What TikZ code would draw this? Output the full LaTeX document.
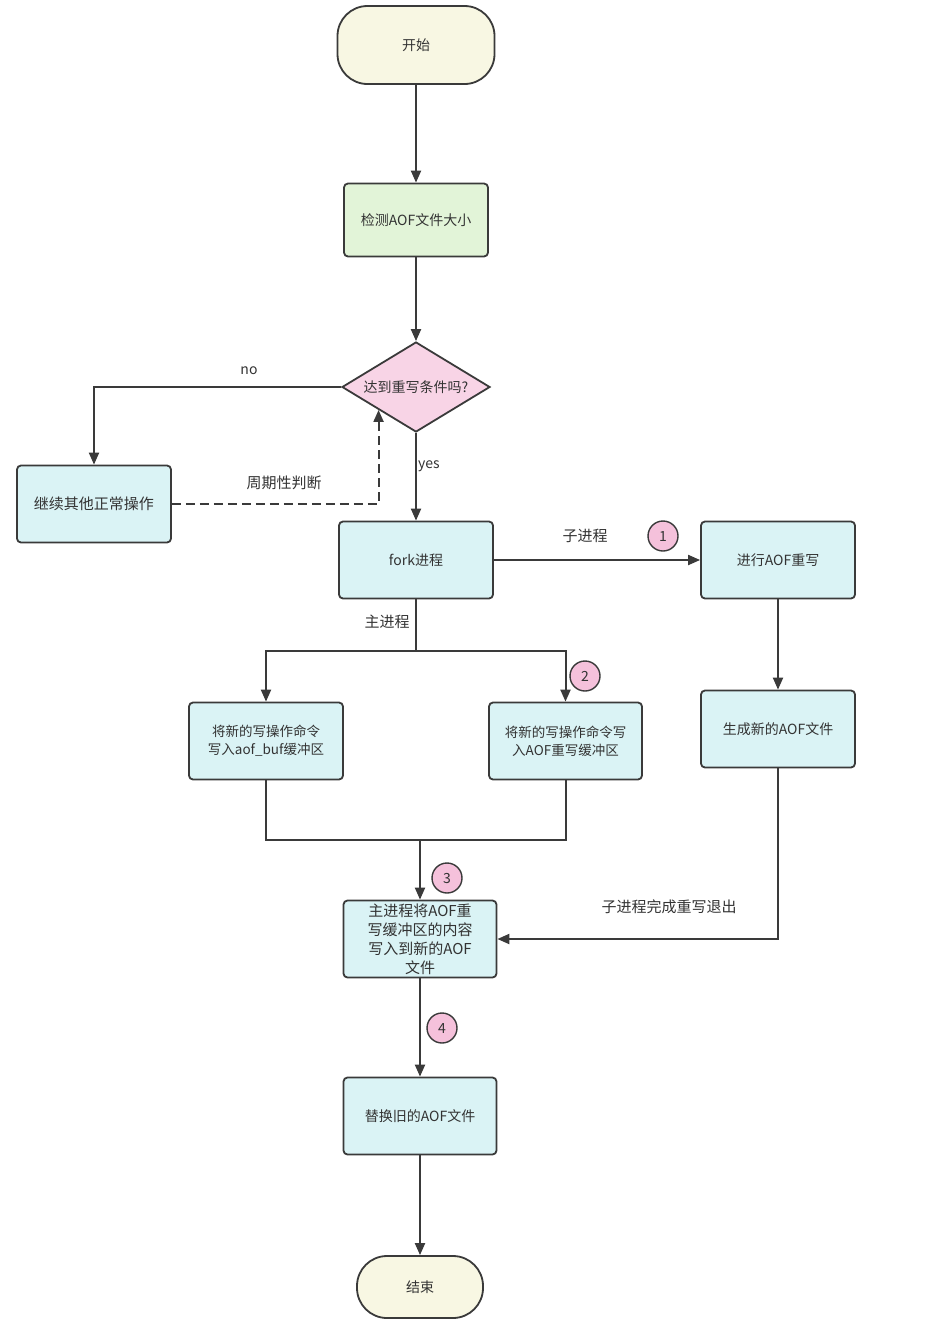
\documentclass[tikz,border=0pt]{standalone}
\usepackage{fontspec}
\setmainfont{Noto Sans CJK SC}
\usetikzlibrary{shapes.geometric,arrows.meta,calc}
\definecolor{lineC}{HTML}{3A3A3A}
\definecolor{txtC}{HTML}{333333}
\definecolor{cyanF}{HTML}{DAF3F5}
\definecolor{greenF}{HTML}{E2F4D8}
\definecolor{yellowF}{HTML}{F8F7E3}
\definecolor{pinkF}{HTML}{F8D4E6}
\definecolor{numF}{HTML}{F5C1DB}
\begin{document}
\begin{tikzpicture}[x=1pt,y=-1pt,
  box/.style={draw=lineC, line width=1.8pt, rounded corners=4pt, fill=cyanF,
    minimum width=154pt, minimum height=77pt, inner sep=2pt, align=center,
    font=\fontsize{14}{18}\selectfont, text=txtC},
  term/.style={box, fill=yellowF, rounded corners=30pt},
  decide/.style={diamond, draw=lineC, line width=1.8pt, fill=pinkF, inner sep=0pt,
    minimum width=148pt, minimum height=90pt, aspect=1.64,
    font=\fontsize{14}{18}\selectfont, text=txtC},
  arr/.style={draw=lineC, line width=2pt, -{Triangle[length=12pt,width=10pt]}},
  plain/.style={draw=lineC, line width=2pt},
  num/.style={circle, draw=lineC, line width=1.4pt, fill=numF, minimum size=30pt,
    inner sep=0pt, font=\fontsize{14}{16}\selectfont, text=txtC},
  lbl/.style={font=\fontsize{14}{16}\selectfont, text=txtC, inner sep=0pt}
]
\useasboundingbox (0,0) rectangle (929,1334);
\fill[white] (0,0) rectangle (929,1334);

% nodes
\node[term, minimum width=157pt, minimum height=78pt] (start) at (416,45) {开始};
\node[box, fill=greenF, minimum width=144pt, minimum height=73pt] (detect) at (416,220) {检测AOF文件大小};
\node[decide] (dia) at (416,387) {达到重写条件吗?};
\node[box, font=\fontsize{15}{18}\selectfont] (cont) at (94,504) {继续其他正常操作};
\node[box] (fork) at (416,560) {fork进程};
\node[box] (rewrite) at (778,560) {进行AOF重写};
\node[box, font=\fontsize{13.5}{18}\selectfont] (buf) at (266,741) {将新的写操作命令\\写入aof\_buf缓冲区};
\node[box, minimum width=153pt, font=\fontsize{13.5}{18}\selectfont] (abuf) at (565.5,741) {将新的写操作命令写\\入AOF重写缓冲区};
\node[box] (gen) at (778,729) {生成新的AOF文件};
\node[box, minimum width=153pt, font=\fontsize{15}{19}\selectfont] (merge) at (420,939) {主进程将AOF重\\写缓冲区的内容\\写入到新的AOF\\文件};
\node[box, minimum width=153pt] (replace) at (420,1116) {替换旧的AOF文件};
\node[term, minimum width=126pt, minimum height=62pt] (end) at (420,1287) {结束};

% connectors
\draw[arr] (start) -- (detect);
\draw[arr] (detect) -- (dia);
\draw[arr] (dia.west) -| (cont.north);
\draw[arr, dash pattern=on 9pt off 5pt] (cont.east) -| (dia.south west);
\draw[arr] (dia.south) -- (fork.north);
\draw[arr] (fork.east) -- (rewrite.west);
\coordinate (split) at (416,651);
\draw[plain] (fork.south) -- (split);
\draw[arr] (split) -| (buf.north);
\draw[arr] (split) -| (abuf.north);
\coordinate (join) at (420,840);
\draw[plain] (buf.south) |- (join);
\draw[plain] (abuf.south) |- (join);
\draw[arr] (join) -- (merge.north);
\draw[arr] (rewrite) -- (gen);
\draw[arr] (gen.south) |- (merge.east);
\draw[arr] (merge) -- (replace);
\draw[arr] (replace) -- (end);

% labels
\node[lbl] (lno) at (249,371) {no};
\node[lbl, font=\fontsize{15}{16}\selectfont] (lper) at (284,483) {周期性判断};
\node[lbl] (lyes) at (429,466) {yes};
\node[lbl, font=\fontsize{15}{16}\selectfont] (lchild) at (585,536) {子进程};
\node[lbl, font=\fontsize{15}{16}\selectfont] (lmain) at (387,622) {主进程};
\node[lbl, font=\fontsize{15}{16}\selectfont] (lexit) at (669,907) {子进程完成重写退出};

% step numbers
\node[num] (n1) at (663,536) {1};
\node[num] (n2) at (585,676) {2};
\node[num] (n3) at (447,878) {3};
\node[num] (n4) at (442,1028) {4};
\end{tikzpicture}
\end{document}
